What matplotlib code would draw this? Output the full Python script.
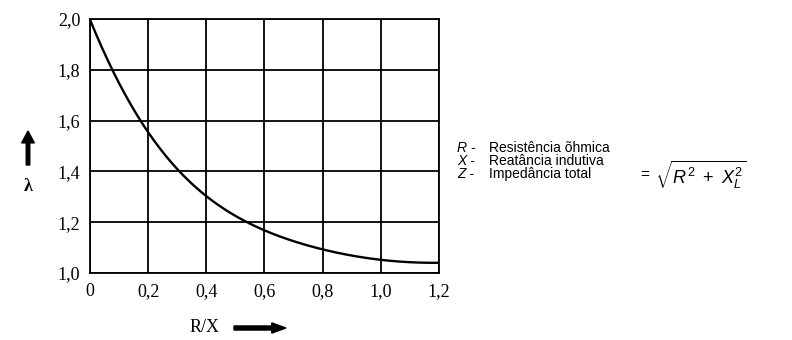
import numpy as np
import matplotlib.pyplot as plt
import matplotlib.patches as mpatches

plt.rcParams["mathtext.fontset"] = "custom"
plt.rcParams["mathtext.rm"] = "Liberation Sans"
plt.rcParams["mathtext.it"] = "Liberation Sans:italic"

# curve
rx = [0.0, 0.05, 0.1, 0.15, 0.2, 0.3, 0.4, 0.5, 0.6, 0.7, 0.8, 0.9, 1.0, 1.1, 1.2]
lam = [2.0, 1.86, 1.75, 1.645, 1.555, 1.41, 1.30, 1.225, 1.17, 1.125, 1.093, 1.068, 1.052, 1.043, 1.04]

x_ticks = [0, 0.2, 0.4, 0.6, 0.8, 1.0, 1.2]
x_labels = ["0", "0,2", "0,4", "0,6", "0,8", "1,0", "1,2"]
y_ticks = [1.0, 1.2, 1.4, 1.6, 1.8, 2.0]
y_labels = ["1,0", "1,2", "1,4", "1,6", "1,8", "2,0"]

legend_sym = ["R -", "X -", "Z -"]
legend_txt = ["Resistência õhmica", "Reatância indutiva", "Impedância total"]

fig = plt.figure(figsize=(7.92, 3.4), dpi=100)
ax = fig.add_axes([0.1136, 0.197, 0.4407, 0.747])

# smooth line through the read points
xs = np.linspace(0, 1.2, 300)
coef = np.polyfit(rx, lam, 6)
ax.plot(xs, np.polyval(coef, xs), color="black", lw=1.7)

ax.set_xlim(0, 1.2)
ax.set_ylim(1.0, 2.0)
ax.set_xticks(x_ticks)
ax.set_xticklabels(x_labels)
ax.set_yticks(y_ticks)
ax.set_yticklabels(y_labels)
ax.tick_params(length=0, pad=7, labelsize=13)
for lbl in ax.get_xticklabels() + ax.get_yticklabels():
    lbl.set_family("Liberation Serif")
ax.grid(color="black", lw=1.3)
for s in ax.spines.values():
    s.set_color("black")
    s.set_linewidth(1.3)

# lambda with arrow on the left
fig.patches.append(mpatches.FancyArrow(
    28 / 792, 1 - 165 / 340, 0, 34 / 340, width=0.0045, head_width=0.016,
    head_length=0.035, color="black", transform=fig.transFigure, length_includes_head=True))
fig.text(28 / 792, 1 - 186 / 340, "λ", ha="center", va="center",
         fontsize=13, family="Liberation Serif", weight="bold")

# R/X with arrow
fig.text(205 / 792, 1 - 328 / 340, "R/X", ha="center", va="center",
         fontsize=13, family="Liberation Serif")
fig.patches.append(mpatches.FancyArrow(
    234 / 792, 1 - 328 / 340, 52 / 792, 0, width=0.012, head_width=0.03,
    head_length=0.018, color="black", transform=fig.transFigure, length_includes_head=True))

# legend-like text block
for i, (sym, txt) in enumerate(zip(legend_sym, legend_txt)):
    y = 1 - (148 + i * 13) / 340
    fig.text(457 / 792, y, sym, ha="left", va="center", fontsize=10,
             family="Liberation Sans", style="italic")
    fig.text(489 / 792, y, txt, ha="left", va="center", fontsize=10,
             family="Liberation Sans")
fig.text(640 / 792, 1 - 175 / 340, "=", ha="left", va="center",
         fontsize=11, family="Liberation Sans")
fig.text(655 / 792, 1 - 175 / 340, r"$\sqrt{R^2\ +\ X_L^2}$", ha="left", va="center",
         fontsize=13, family="Liberation Sans")

fig.savefig("out.png", dpi=100)
